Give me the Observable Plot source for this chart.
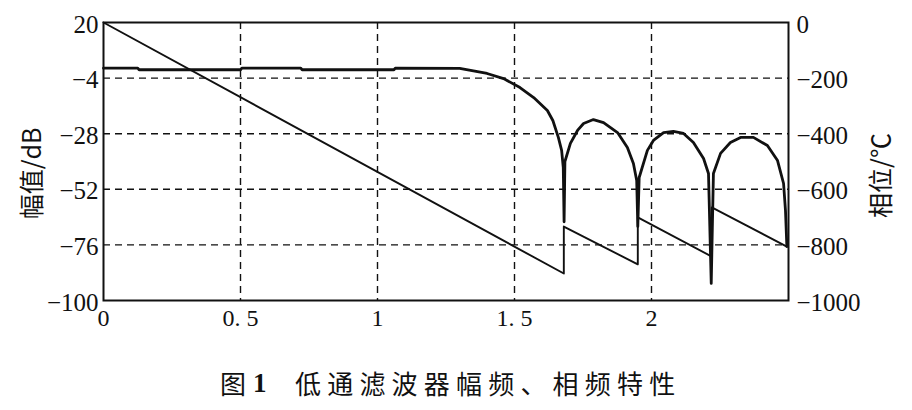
<!DOCTYPE html>
<html>
<head>
<meta charset="utf-8">
<script src="https://cdn.jsdelivr.net/npm/d3@7"></script>
<script src="https://cdn.jsdelivr.net/npm/@observablehq/plot@0.6"></script>
<style>
  html, body { margin: 0; padding: 0; background: #fff; }
  #chart { width: 912px; height: 345px; }
  #cap { position: relative; width: 912px; height: 65px; font-family: "Noto Sans CJK SC", sans-serif; font-size: 26px; line-height: 26px; color: #111; }
  #cap span { position: absolute; top: 25px; white-space: pre; }
</style>
</head>
<body>
<div id="chart"></div>
<div id="cap">
  <span style="left:220px">图</span>
  <span style="left:253px; font-family:'Liberation Serif', serif; font-size:27px; font-weight:bold;">1</span>
  <span style="left:295px; letter-spacing:6.2px">低通滤波器幅频、相频特性</span>
</div>
<script>
// ---- axis ticks and labels ----
const xTicks = [0, 0.5, 1, 1.5, 2];
const xTickLabels = ["0", "0. 5", "1", "1. 5", "2"];
const dbTicks = [20, -4, -28, -52, -76, -100];
const dbTickLabels = ["20", "−4", "−28", "−52", "−76", "−100"];
const phaseTicks = [0, -200, -400, -600, -800, -1000];
const phaseTickLabels = ["0", "−200", "−400", "−600", "−800", "−1000"];
const yLabelLeft = "幅值/dB";
const yLabelRight = "相位/℃";

// ---- magnitude response (dB) ----
const magFreq = [0, 0.125, 0.13, 0.5, 0.505, 0.72, 0.725, 1.06, 1.065, 1.30, 1.40, 1.46, 1.52, 1.57, 1.62, 1.64, 1.66, 1.672, 1.678, 1.681, 1.684, 1.704, 1.73, 1.752, 1.788, 1.825, 1.876, 1.912, 1.934, 1.946, 1.95, 1.955, 1.985, 2.007, 2.044, 2.08, 2.117, 2.153, 2.19, 2.208, 2.218, 2.226, 2.252, 2.288, 2.325, 2.372, 2.423, 2.46, 2.482, 2.489, 2.494];
const magDb = [0.3, 0.3, -0.4, -0.4, 0.3, 0.3, -0.4, -0.4, 0.3, 0.2, -2.0, -4.2, -8.1, -12.4, -18.0, -22.3, -29.6, -35.2, -42.6, -66, -40, -32.2, -26.6, -23.6, -21.9, -23.2, -27.5, -34.0, -40.9, -48.2, -68, -46.9, -35.2, -30.9, -27.5, -27.0, -27.9, -31.8, -38.7, -45.2, -92.6, -45.2, -36.5, -31.8, -29.6, -29.6, -33.1, -39.6, -49.5, -61.1, -76.7];

// ---- phase response (degrees) ----
const phaseFreq = [0, 1.68, 1.68, 1.95, 1.95, 2.22, 2.22, 2.494];
const phaseDeg = [0, -903, -734, -870, -701, -842, -665, -806];

// build tables
const mag = magFreq.map((f, i) => ({f, v: magDb[i]}));
const phase = phaseFreq.map((f, i) => ({f, p: phaseDeg[i]}));

// map phase domain onto the dB y scale (right axis)
const dbDomain = [-100, 20];
const phDomain = [-1000, 0];
const toDb = p => dbDomain[0] + (p - phDomain[0]) * (dbDomain[1] - dbDomain[0]) / (phDomain[1] - phDomain[0]);
const phaseTickPos = phaseTicks.map(toDb);

const ink = "#111";
const serif = "Liberation Serif, DejaVu Serif, serif";
const dash = "7,5";

const chart = Plot.plot({
  width: 912,
  height: 345,
  marginLeft: 103,
  marginRight: 124,
  marginTop: 22,
  marginBottom: 45,
  style: {background: "#fff", color: ink, fontFamily: serif},
  x: {domain: [0, 2.5]},
  y: {domain: dbDomain},
  marks: [
    Plot.gridY(dbTicks.slice(1, -1), {stroke: ink, strokeOpacity: 1, strokeWidth: 1.4, strokeDasharray: dash}),
    Plot.gridX(xTicks.slice(1), {stroke: ink, strokeOpacity: 1, strokeWidth: 1.4, strokeDasharray: dash}),
    Plot.line(phase, {x: "f", y: d => toDb(d.p), stroke: ink, strokeWidth: 1.9}),
    Plot.line(mag, {x: "f", y: "v", stroke: ink, strokeWidth: 2.8, strokeLinejoin: "round"}),
    Plot.frame({stroke: ink, strokeWidth: 2}),
    Plot.axisY(dbTicks, {anchor: "left", tickSize: 0, tickPadding: 5, fontSize: 25, fontFamily: serif, fill: ink, label: null, dy: 2,
      tickFormat: d => dbTickLabels[dbTicks.indexOf(d)]}),
    Plot.axisY(phaseTickPos, {anchor: "right", tickSize: 0, tickPadding: 8, fontSize: 25, fontFamily: serif, fill: ink, label: null, dy: 2,
      tickFormat: d => phaseTickLabels[phaseTickPos.findIndex(t => Math.abs(t - d) < 1e-6)]}),
    Plot.axisX(xTicks, {anchor: "bottom", tickSize: 0, tickPadding: 8, fontSize: 24, fontFamily: serif, fill: ink, label: null,
      tickFormat: d => xTickLabels[xTicks.indexOf(d)]}),
    Plot.text([yLabelLeft], {frameAnchor: "left", textAnchor: "middle", dx: -71, dy: 12, rotate: -90, fontSize: 25, fontFamily: "Noto Sans CJK SC", fill: ink, text: d => d}),
    Plot.text([yLabelRight], {frameAnchor: "right", textAnchor: "middle", dx: 93, dy: 14, rotate: -90, fontSize: 25, fontFamily: "Noto Sans CJK SC", fill: ink, text: d => d})
  ]
});
document.getElementById("chart").appendChild(chart);
</script>
</body>
</html>
